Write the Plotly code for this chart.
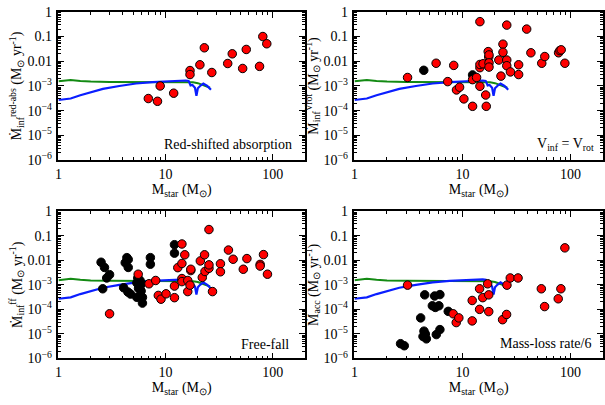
import plotly.graph_objects as go

# ---------------- data ----------------
# model curves (shared by all panels)
blue_mass = [1, 1.3, 1.6, 2, 2.6, 3.7, 5.3, 7.6, 10.8, 15.4, 16.4, 17.1, 17.8, 18.8, 19.4, 20.0, 21.0, 22.5, 24.5, 26.5]
blue_rate = [2.7e-4, 3.1e-4, 4.2e-4, 5.6e-4, 7.6e-4, 1.0e-3, 1.26e-3, 1.44e-3, 1.58e-3, 1.66e-3,
             1.6e-3, 1.05e-3, 1.1e-3, 8.5e-4, 4.0e-4, 8.0e-4, 1.0e-3, 1.25e-3, 1.0e-3, 7.0e-4]
green_mass = [1, 1.3, 1.6, 2, 3, 5, 10, 15, 18, 20, 22, 24, 26]
green_rate = [1.55e-3, 1.75e-3, 1.6e-3, 1.5e-3, 1.45e-3, 1.42e-3, 1.45e-3, 1.45e-3, 1.4e-3, 1.3e-3, 1.1e-3, 9.5e-4, 8.5e-4]

# panel 1: red-shifted absorption
p1_red_mass = [6.9, 8.4, 8.9, 11.9, 16.9, 16.9, 20.9, 23.0, 27.0, 38.0, 41.9, 52.4, 56.6, 75.3, 80.8, 88.0]
p1_red_rate = [3.1e-4, 2.4e-4, 1.0e-3, 5.1e-4, 4.2e-3, 2.9e-3, 7.2e-3, 0.035, 3.5e-3, 8.1e-3, 0.02, 5.1e-3, 0.030, 6.2e-3, 0.1, 0.051]

# panel 2: V_inf = V_rot
p2_black_mass = [4.38, 12.4]
p2_black_rate = [4.3e-3, 2.8e-3]
p2_red_mass = [3.1, 5.7, 7.3, 8.3, 8.8, 9.4, 10.3, 12.4, 12.4, 13.5, 14.5, 14.5, 14.5, 14.5, 15.5, 16.4, 16.6,
               17.3, 17.5, 17.6, 17.6, 17.6, 21.7, 22.7, 23.7, 23.7, 25.7, 25.7, 25.7, 27.8, 33.1, 33.1,
               39.3, 43.0, 54.2, 57.8, 77.6, 79.7, 82.0, 88.7]
p2_red_rate = [2.2e-3, 8.3e-3, 1.5e-3, 6.8e-3, 6.9e-4, 8.9e-4, 3.0e-4, 1.5e-4, 1.8e-3, 2.2e-3, 0.4, 5.5e-3, 7.4e-3, 9.7e-4,
               7.9e-3, 4.3e-4, 1.5e-4, 0.0245, 0.0148, 0.018, 8.6e-3, 5.8e-3, 0.0112, 2.5e-3, 0.049, 0.023,
               0.29, 0.0112, 6.6e-3, 3.7e-3, 7.2e-3, 2.9e-3, 0.2, 0.022, 8.3e-3, 0.0155, 0.022, 0.027, 0.029, 8.3e-3]

# panel 3: free-fall
p3_black_mass = [2.5, 2.69, 2.59, 2.82, 3.0, 4.06, 4.2, 4.35, 4.48, 4.48, 4.45, 4.71, 5.39, 5.39, 5.5, 5.59,
                 5.78, 5.78, 5.91, 5.95, 6.08, 6.08, 7.21, 7.21, 12.1, 12.1]
p3_black_rate = [8.3e-3, 5.1e-3, 6.9e-4, 1.9e-3, 2.6e-3, 7.6e-4, 7.9e-3, 0.0128, 0.0107, 5.1e-3, 5.1e-4, 4.2e-4,
                 3.1e-4, 1.2e-3, 1.9e-3, 7.2e-4, 1.5e-3, 8.9e-4, 5.6e-4, 1.1e-3, 3.1e-4, 1.8e-4, 0.0128, 6.9e-3, 0.043, 0.0195]
p3_red_mass = [3.0, 5.55, 7.0, 8.08, 8.55, 9.06, 10.1, 12.1, 12.1, 13.0, 14.2, 14.2, 14.2, 14.2, 15.1, 16.1, 16.1,
               16.9, 17.2, 17.2, 21.1, 22.0, 23.1, 23.3, 25.4, 25.4, 25.4, 27.4, 32.5, 32.5, 38.6, 42.7, 53.1,
               57.4, 76.3, 76.3, 82.0, 89.3]
p3_red_rate = [6.6e-5, 2.7e-3, 1.1e-3, 1.5e-3, 3.7e-4, 2.6e-4, 4.3e-4, 3.0e-4, 8.9e-4, 5.0e-3, 0.046, 7.4e-3, 1.8e-3,
               1.35e-3, 0.0167, 5.3e-4, 1.5e-3, 9.7e-4, 3.8e-3, 4.3e-3, 9.4e-3, 2.0e-3, 0.0167, 3.5e-3, 4.7e-3,
               6.5e-3, 0.178, 5.3e-4, 7.2e-3, 3.4e-3, 0.026, 0.011, 4.3e-3, 0.0117, 6.8e-3, 5.8e-3, 0.017, 2.7e-3]

# panel 4: mass-loss rate / 6
p4_black_mass = [2.67, 2.89, 4.1, 4.47, 4.4, 4.53, 4.31, 4.63, 5.26, 5.52, 5.6, 5.72, 6.05, 6.18, 6.18, 7.38]
p4_black_rate = [4.0e-6, 3.3e-6, 4.5e-5, 3.9e-4, 1.3e-5, 1.0e-5, 7.9e-6, 6.3e-6, 1.4e-4, 3.5e-4, 1.2e-4, 9.4e-6,
                 1.4e-4, 4.0e-4, 1.5e-5, 8.3e-5]
p4_red_mass = [3.1, 8.2, 8.75, 9.25, 12.3, 12.3, 14.4, 14.4, 15.4, 17.1, 17.5, 17.5, 23.5, 25.6, 25.8, 27.7,
               32.7, 53.7, 57.6, 77.0, 81.5, 88.7]
p4_red_rate = [9.7e-4, 6.6e-5, 2.9e-5, 4.5e-5, 3.4e-5, 2.3e-4, 6.9e-4, 1.0e-4, 3.0e-4, 1.1e-3, 3.9e-4, 8.1e-5,
               3.8e-5, 6.2e-5, 9.7e-4, 1.9e-3, 1.9e-3, 6.9e-4, 1.3e-4, 2.7e-4, 6.9e-4, 0.032]

y_tickvals = [1e-6, 1e-5, 1e-4, 1e-3, 0.01, 0.1, 1]
y_ticktext = ["10<sup>−6</sup>", "10<sup>−5</sup>", "10<sup>−4</sup>", "10<sup>−3</sup>", "0.01", "0.1", "1"]
x_tickvals = [1, 10, 100]
x_ticktext = ["1", "10", "100"]

panel_labels = ["Red-shifted absorption", "V<sub>inf</sub> = V<sub>rot</sub>", "Free-fall", "Mass-loss rate/6"]
y_titles = [
    "Ṁ<sub>inf</sub><sup>red-abs</sup> (M<sub>⊙</sub> yr<sup>-1</sup>)",
    "Ṁ<sub>inf</sub><sup>Vrot</sup> (M<sub>⊙</sub> yr<sup>-1</sup>)",
    "Ṁ<sub>inf</sub><sup>ff</sup> (M<sub>⊙</sub> yr<sup>-1</sup>)",
    "Ṁ<sub>acc</sub> (M<sub>⊙</sub> yr<sup>-1</sup>)",
]
x_title = "M<sub>star</sub> (M<sub>⊙</sub>)"

# ---------------- figure ----------------
FONT = "Liberation Serif, Times New Roman, Times, serif"
W, H = 605, 405
xdoms = [[55 / W, 304 / W], [354 / W, 1.0]]
ydoms = [[1 - 159 / H, 1 - 5 / H], [1 - 365 / H, 1 - 212 / H]]

RED = "#ff0000"
BLUE = "#0a1eff"
GREEN = "#138a13"

panels = [
    (None, None, p1_red_mass, p1_red_rate),
    (p2_black_mass, p2_black_rate, p2_red_mass, p2_red_rate),
    (p3_black_mass, p3_black_rate, p3_red_mass, p3_red_rate),
    (p4_black_mass, p4_black_rate, p4_red_mass, p4_red_rate),
]
label_pos = [(0.956, 0.104), (0.972, 0.104), (0.944, 0.098), (0.96, 0.105)]

fig = go.Figure()
layout = dict(
    width=W, height=H, margin=dict(l=0, r=0, t=0, b=0),
    paper_bgcolor="white", plot_bgcolor="white",
    showlegend=False, font=dict(family=FONT, size=14, color="black"),
)
annotations = []
for i, (bm, br, rm, rr) in enumerate(panels):
    n = "" if i == 0 else str(i + 1)
    xa, ya = "x" + n, "y" + n
    col, row = i % 2, i // 2
    fig.add_trace(go.Scatter(x=green_mass, y=green_rate, mode="lines",
                             line=dict(color=GREEN, width=2), xaxis=xa, yaxis=ya))
    fig.add_trace(go.Scatter(x=blue_mass, y=blue_rate, mode="lines",
                             line=dict(color=BLUE, width=2.2), xaxis=xa, yaxis=ya))
    if bm is not None:
        fig.add_trace(go.Scatter(x=bm, y=br, mode="markers",
                                 marker=dict(color="black", size=8.5, line=dict(color="black", width=1)),
                                 xaxis=xa, yaxis=ya))
    fig.add_trace(go.Scatter(x=rm, y=rr, mode="markers",
                             marker=dict(color=RED, size=8.5, line=dict(color="black", width=1)),
                             xaxis=xa, yaxis=ya))
    common = dict(
        type="log", showgrid=False, zeroline=False, showline=True, linecolor="black", linewidth=1.5,
        mirror="allticks", ticks="inside", ticklen=6, tickwidth=1, tickcolor="black",
        tickfont=dict(family=FONT, size=14, color="black"),
        minor=dict(ticks="inside", ticklen=3, tickwidth=1, tickcolor="black", dtick="D1", showgrid=False),
    )
    layout["xaxis" + n] = dict(
        common, domain=xdoms[col], anchor=ya, range=[0, 2.30103],
        tickvals=x_tickvals, ticktext=x_ticktext, ticklabelstandoff=0,
        title=dict(text=x_title, font=dict(family=FONT, size=14), standoff=2),
    )
    layout["yaxis" + n] = dict(
        common, domain=ydoms[row], anchor=xa, range=[-6, 0],
        tickvals=y_tickvals, ticktext=y_ticktext, ticklabelstandoff=2,
        title=dict(text=y_titles[i], font=dict(family=FONT, size=14), standoff=2),
    )
    lx, ly = label_pos[i]
    annotations.append(dict(
        text=panel_labels[i], xref=xa + " domain", yref=ya + " domain", x=lx, y=ly,
        xanchor="right", yanchor="middle", showarrow=False, font=dict(family=FONT, size=14, color="black"),
    ))
layout["annotations"] = annotations
fig.update_layout(**layout)
fig.write_html("out.html")
